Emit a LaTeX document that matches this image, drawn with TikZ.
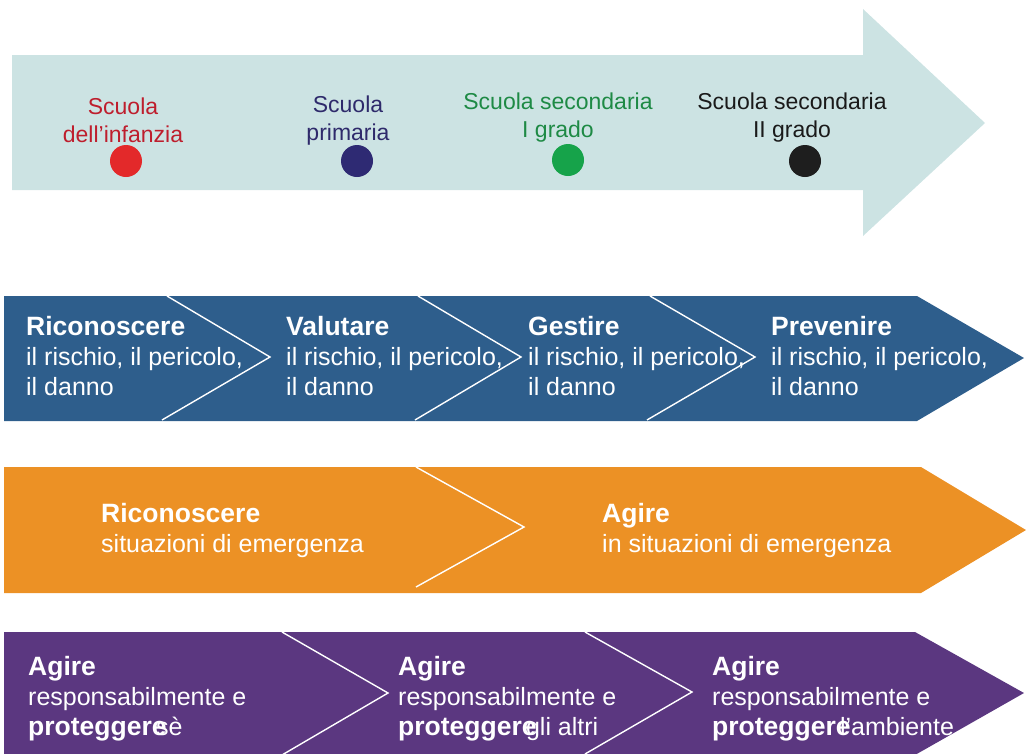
\documentclass[tikz,border=0pt]{standalone}
\usepackage{fontspec}
\setmainfont{Liberation Sans}
\definecolor{arrowteal}{RGB}{204,227,227}
\definecolor{redtxt}{RGB}{190,30,45}
\definecolor{reddot}{RGB}{227,41,42}
\definecolor{navytxt}{RGB}{46,42,107}
\definecolor{navydot}{RGB}{46,42,115}
\definecolor{greentxt}{RGB}{30,138,69}
\definecolor{greendot}{RGB}{22,163,74}
\definecolor{blacktxt}{RGB}{26,26,26}
\definecolor{blackdot}{RGB}{30,30,30}
\definecolor{bandblue}{RGB}{46,94,140}
\definecolor{bandorange}{RGB}{236,145,37}
\definecolor{bandpurple}{RGB}{91,55,128}
\newcommand{\bt}[1]{{\fontsize{26.5}{30}\selectfont\bfseries #1}}
\newcommand{\overbold}[2]{\rlap{\bt{#1}}\phantom{#1} #2}
\begin{document}
\begin{tikzpicture}[x=1pt,y=-1pt,
  schooltxt/.style={anchor=base, align=center, inner sep=0pt, font=\fontsize{23}{28}\selectfont},
  dot/.style={circle, minimum size=32pt, inner sep=0pt},
  bandtxt/.style={anchor=base west, align=left, inner sep=0pt, text=white, font=\fontsize{25}{30}\selectfont},
  chev/.style={draw=white, line width=1.4pt}]
\useasboundingbox (0,0) rectangle (1026,753);
\clip (0,0) rectangle (1026,753);
% top arrow
\fill[arrowteal] (12,55) -- (863,55) -- (863,9) -- (985,123) -- (863,236) -- (863,190) -- (12,190) -- cycle;
\node[schooltxt, text=redtxt] (s1) at (123,142) {Scuola\\dell’infanzia};
\node[schooltxt, text=navytxt] (s2) at (348,140) {Scuola\\primaria};
\node[schooltxt, text=greentxt] (s3) at (558,137) {Scuola secondaria\\I grado};
\node[schooltxt, text=blacktxt] (s4) at (792,137) {Scuola secondaria\\II grado};
\node[dot, fill=reddot] (d1) at (126,161) {};
\node[dot, fill=navydot] (d2) at (357,161) {};
\node[dot, fill=greendot] (d3) at (568,160) {};
\node[dot, fill=blackdot] (d4) at (805,161) {};
% blue band
\fill[bandblue] (4,296) -- (917,296) -- (1024,358) -- (917,421) -- (4,421) -- cycle;
\draw[chev] (167,296) -- (270,357) -- (162,420);
\draw[chev] (418,296) -- (521,357) -- (415,420);
\draw[chev] (650,296) -- (755,357) -- (647,420);
\node[bandtxt] (b1) at (26,395) {\bt{Riconoscere}\\il rischio, il pericolo,\\il danno};
\node[bandtxt] (b2) at (286,395) {\bt{Valutare}\\il rischio, il pericolo,\\il danno};
\node[bandtxt] (b3) at (528,395) {\bt{Gestire}\\il rischio, il pericolo,\\il danno};
\node[bandtxt] (b4) at (771,395) {\bt{Prevenire}\\il rischio, il pericolo,\\il danno};
% orange band
\fill[bandorange] (4,467) -- (921,467) -- (1026,530) -- (921,593) -- (4,593) -- cycle;
\draw[chev] (416,467) -- (524,527) -- (416,587);
\node[bandtxt] (o1) at (101,552) {\bt{Riconoscere}\\situazioni di emergenza};
\node[bandtxt] (o2) at (602,552) {\bt{Agire}\\in situazioni di emergenza};
% purple band
\fill[bandpurple] (4,632) -- (915,632) -- (1024,693) -- (915,755) -- (4,755) -- cycle;
\draw[chev] (282,632) -- (388,693) -- (282,755);
\draw[chev] (585,632) -- (692,692) -- (585,754);
\node[bandtxt] (p1) at (28,735) {\bt{Agire}\\responsabilmente e\\\overbold{proteggere}{sè}};
\node[bandtxt] (p2) at (398,735) {\bt{Agire}\\responsabilmente e\\\overbold{proteggere}{gli altri}};
\node[bandtxt] (p3) at (712,735) {\bt{Agire}\\responsabilmente e\\\overbold{proteggere}{l’ambiente}};
\end{tikzpicture}
\end{document}
